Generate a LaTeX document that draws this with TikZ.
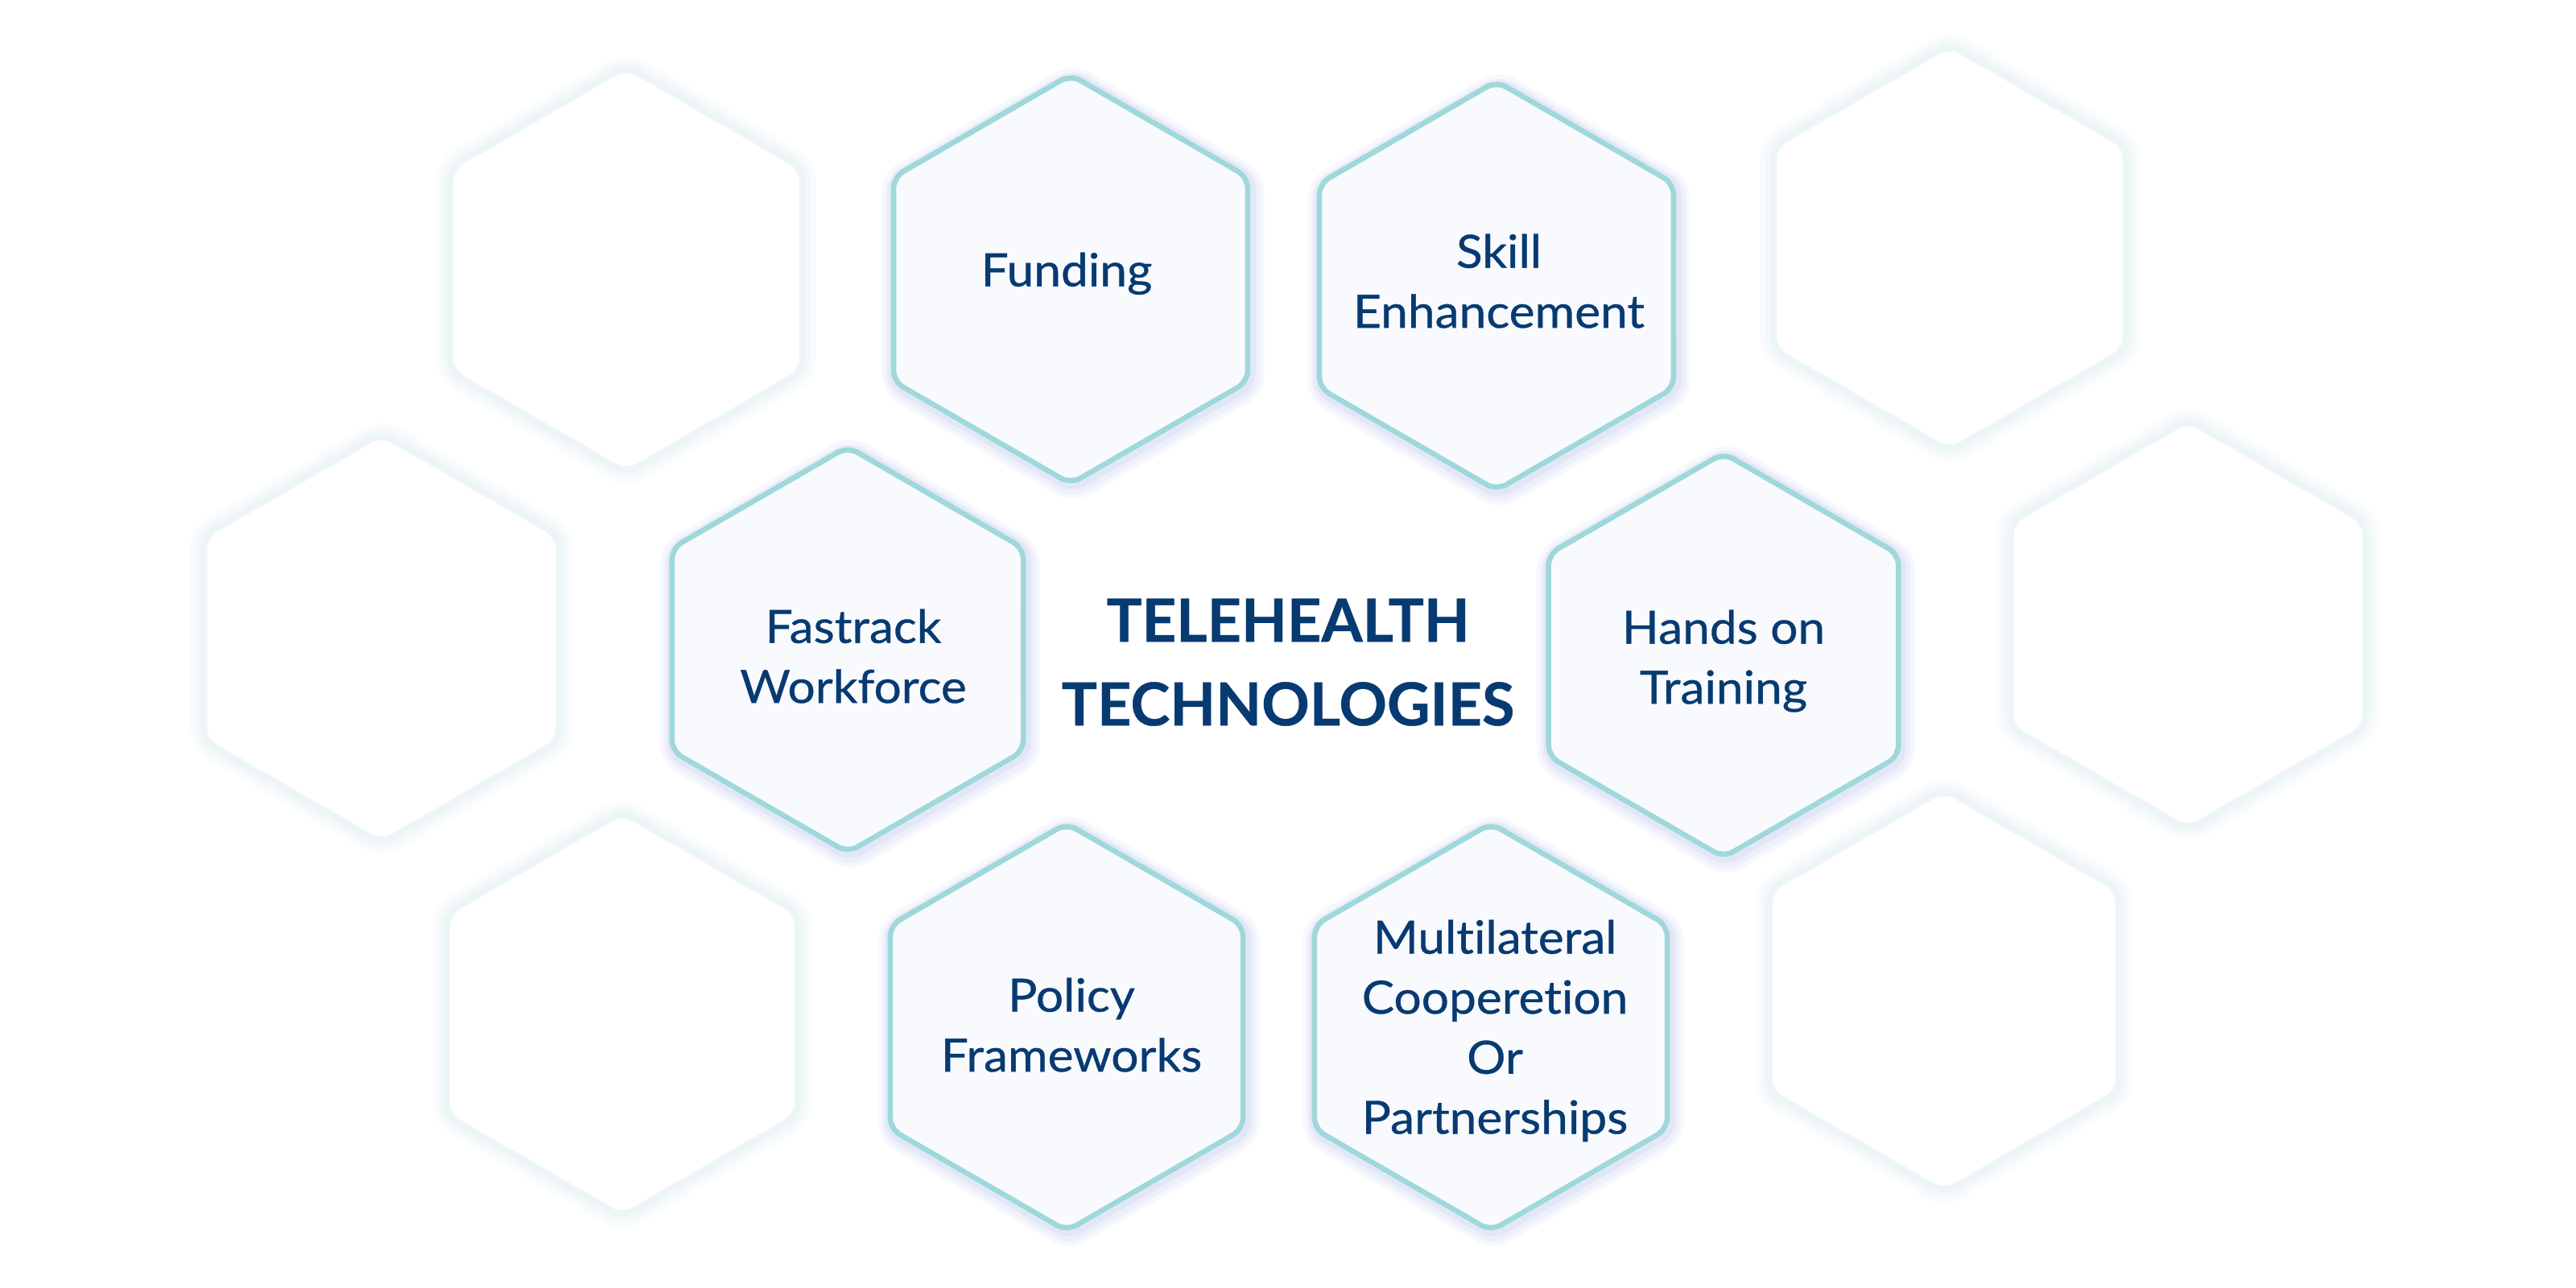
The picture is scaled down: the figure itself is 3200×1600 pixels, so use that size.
\documentclass[tikz,border=0pt]{standalone}
\usepackage{fontspec}
\setmainfont{Lato}[Ligatures=NoCommon]
\newfontfamily\lblfont{Lato}[Ligatures=NoCommon, FakeStretch=1.06, FakeBold=0.6]
\newfontfamily\ttlfont{Lato Bold}[Ligatures=NoCommon, FakeBold=0.5]
\usetikzlibrary{calc}
\definecolor{hexline}{HTML}{9FD8DA}
\definecolor{hexfill}{HTML}{F8FAFD}
\definecolor{hexshadow}{HTML}{C3CDF0}
\definecolor{faintglow}{HTML}{E0F0F3}
\definecolor{navy}{HTML}{083A72}
\newcommand\hexp[4]{($(#1,#2)+(#4:0.866*#3)$) -- ($(#1,#2)+(30+#4:#3)$) -- ($(#1,#2)+(90+#4:#3)$) -- ($(#1,#2)+(150+#4:#3)$) -- ($(#1,#2)+(210+#4:#3)$) -- ($(#1,#2)+(270+#4:#3)$) -- ($(#1,#2)+(330+#4:#3)$) -- cycle}
\newcommand\fainthex[3]{%
  \draw[faintglow, line width=12pt, opacity=0.18, rounded corners=4pt] \hexp{#1}{#2}{#3}{0};
  \draw[faintglow, line width=8pt, opacity=0.22, rounded corners=4pt] \hexp{#1}{#2}{#3}{0};
  \draw[faintglow, line width=5pt, opacity=0.3, rounded corners=4pt] \hexp{#1}{#2}{#3}{0};
  \fill[white, rounded corners=4pt] \hexp{#1}{#2}{#3}{0};}
\newcommand\mainshadow[4]{%
  \draw[hexshadow, line width=10pt, opacity=0.12, rounded corners=4pt, shift={(3,5)}] \hexp{#1}{#2}{#3}{#4};
  \draw[hexshadow, line width=7pt, opacity=0.18, rounded corners=4pt, shift={(3,5)}] \hexp{#1}{#2}{#3}{#4};
  \draw[hexshadow, line width=4.5pt, opacity=0.25, rounded corners=4pt, shift={(2,3)}] \hexp{#1}{#2}{#3}{#4};}
\newcommand\mainhex[4]{%
  \draw[hexline, fill=hexfill, line width=1.85pt, rounded corners=4pt] \hexp{#1}{#2}{#3}{#4};}
\tikzset{
  lbl/.style={text=navy, align=center, inner sep=0pt, anchor=north,
    font=\lblfont\fontsize{16.2pt}{21.2pt}\selectfont},
  ttl/.style={text=navy, align=center, inner sep=0pt, anchor=north,
    font=\ttlfont\fontsize{21pt}{29.6pt}\selectfont}
}
\begin{document}
\begin{tikzpicture}[x=0.01cm, y=-0.01cm]
\fill[white] (0,0) rectangle (3200,1600);
\useasboundingbox (0,0) rectangle (3200,1600);
% faint background hexagons
\fainthex{778}{335}{248}
\fainthex{474}{793}{250}
\fainthex{773}{1260}{247}
\fainthex{2422}{308}{248}
\fainthex{2718}{776}{250}
\fainthex{2415}{1231}{246}
% shadows of main hexagons
\mainshadow{1330}{347}{254}{0}
\mainshadow{1859}{355}{254}{0}
\mainshadow{1053}{807}{252}{0}
\mainshadow{2141}{814}{251}{0}
\mainshadow{1325}{1276}{253}{0}
\mainshadow{1852}{1276}{253}{0}
% main hexagons
\mainhex{1330}{347}{254}{0}
\mainhex{1859}{355}{254}{0}
\mainhex{1053}{807}{252}{0}
\mainhex{2141}{814}{251}{0}
\mainhex{1325}{1276}{253}{0}
\mainhex{1852}{1276}{253}{0}
% labels
\node[lbl] (fund) at (1325,313) {Funding};
\node[lbl] (skill) at (1862,290) {Skill\\Enhancement};
\node[lbl] (fast) at (1060,756) {Fastrack\\Workforce};
\node[lbl] (hands) at (2141,757) {Hands on\\Training};
\node[lbl] (policy) at (1331,1214) {Policy\\Frameworks};
\node[lbl] (multi) at (1857,1142) {Multilateral\\Cooperetion\\Or\\Partnerships};
\node[ttl] (title) at (1600,743) {TELEHEALTH\\TECHNOLOGIES};
\end{tikzpicture}
\end{document}
